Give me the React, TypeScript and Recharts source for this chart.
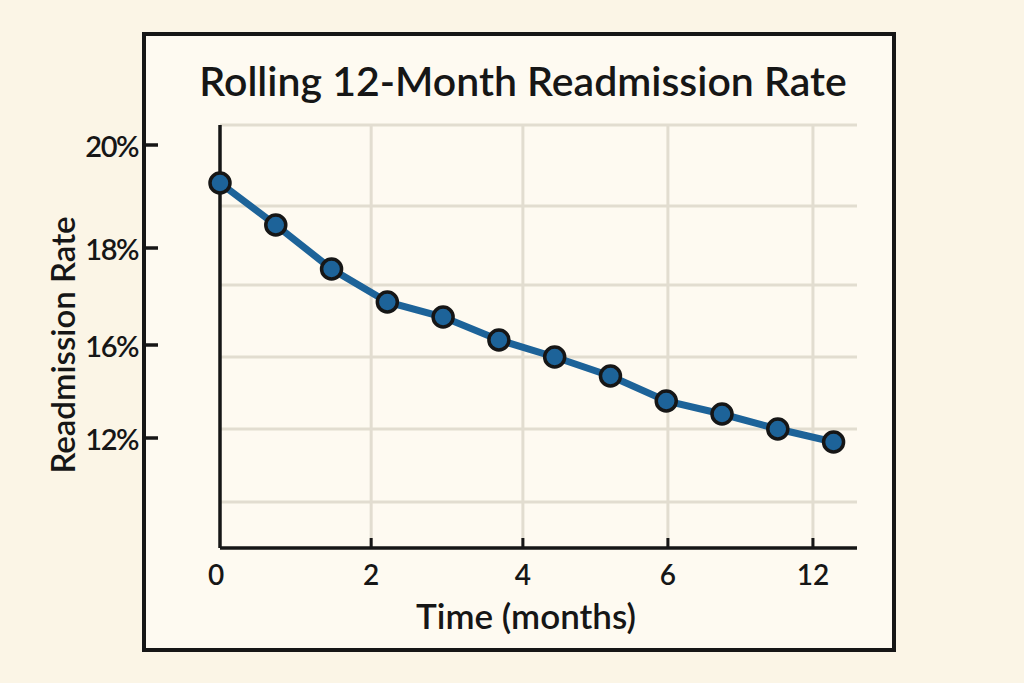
import React from "react";
import { CartesianGrid, Line, LineChart, XAxis, YAxis } from "recharts";

// x = month index, y = readmission rate (%)
const months = [0, 1, 2, 3, 4, 5, 6, 7, 8, 9, 10, 11];
const rates = [19.24, 18.4, 17.52, 16.86, 16.56, 16.1, 15.76, 15.38, 14.88, 14.62, 14.32, 14.06];

// tick positions on the axes and the labels printed at them
const xTicks = [0, 2.71, 5.43, 8.03, 10.63];
const xTickLabels = ["0", "2", "4", "6", "12"];
const yTicks = [20, 17.94, 16, 14.14];
const yTickLabels = ["20%", "18%", "16%", "12%"];

// grid lines
const xGrid = [2.71, 5.43, 8.03, 10.63];
const yGrid = [20.4, 18.78, 17.2, 15.76, 14.32, 12.86];

const data = months.map((m, i) => ({ month: m, rate: rates[i] }));

const INK = "#161616";
const FONT = "Lato, 'Open Sans', sans-serif";

const XTick = (props: any) => {
  const { x, y, index } = props;
  return (
    <g>
      {index > 0 && <line x1={x} x2={x} y1={y} y2={y - 10} stroke={INK} strokeWidth={3} />}
      <text
        x={index === 0 ? x - 4 : x}
        y={y + 26}
        textAnchor="middle"
        dominantBaseline="central"
        fill={INK}
        fontSize={28}
        fontFamily={FONT}
        fontWeight={600}
      >
        {xTickLabels[index]}
      </text>
    </g>
  );
};

const YTick = (props: any) => {
  const { x, y, index } = props;
  return (
    <g>
      <line x1={x - 75} x2={x - 62} y1={y} y2={y} stroke={INK} strokeWidth={3.5} />
      <text
        x={x - 82}
        y={y}
        textAnchor="end"
        dominantBaseline="central"
        fill={INK}
        fontSize={29}
        fontFamily={FONT}
        fontWeight={600}
        letterSpacing={-1.5}
      >
        {yTickLabels[index]}
      </text>
    </g>
  );
};

export default function App() {
  return (
    <div
      style={{
        position: "absolute",
        left: 0,
        top: 0,
        width: 1024,
        height: 683,
        background: "#FBF5E6",
        overflow: "hidden",
        fontFamily: FONT,
      }}
    >
      <div
        style={{
          position: "absolute",
          left: 142,
          top: 32,
          width: 754,
          height: 620,
          boxSizing: "border-box",
          border: `4.5px solid ${INK}`,
          background: "#FEFAF1",
        }}
      />
      <div
        style={{
          position: "absolute",
          left: 523,
          top: 80,
          transform: "translate(-50%, -50%)",
          whiteSpace: "nowrap",
          fontSize: 41,
          fontWeight: 600,
          color: INK,
        }}
      >
        Rolling 12-Month Readmission Rate
      </div>
      <div
        style={{
          position: "absolute",
          left: 62,
          top: 345,
          transform: "translate(-50%, -50%) rotate(-90deg)",
          whiteSpace: "nowrap",
          fontSize: 33,
          fontWeight: 600,
          color: INK,
        }}
      >
        Readmission Rate
      </div>
      <div
        style={{
          position: "absolute",
          left: 526,
          top: 615,
          transform: "translate(-50%, -50%)",
          whiteSpace: "nowrap",
          fontSize: 35,
          lineHeight: 1,
          fontWeight: 600,
          color: INK,
        }}
      >
        Time (months)
      </div>
      <div style={{ position: "absolute", left: 0, top: 0 }}>
        <LineChart
          width={1024}
          height={683}
          data={data}
          margin={{ left: 160, right: 167, top: 125, bottom: 105 }}
        >
          <CartesianGrid
            stroke="#E2DDD0"
            strokeWidth={3}
            verticalValues={xGrid}
            horizontalValues={yGrid}
          />
          <XAxis
            dataKey="month"
            type="number"
            domain={[0, 11.42]}
            ticks={xTicks}
            interval={0}
            height={30}
            tickSize={0}
            tickMargin={0}
            tickLine={false}
            axisLine={{ stroke: INK, strokeWidth: 3.5 }}
            tick={<XTick />}
          />
          <YAxis
            type="number"
            domain={[11.94, 20.4]}
            ticks={yTicks}
            interval={0}
            width={60}
            tickSize={0}
            tickMargin={0}
            tickLine={false}
            axisLine={{ stroke: INK, strokeWidth: 3.5 }}
            tick={<YTick />}
          />
          <Line
            dataKey="rate"
            type="linear"
            stroke="#1D6399"
            strokeWidth={7}
            dot={{ r: 10, fill: "#1D6399", stroke: INK, strokeWidth: 3.5 }}
            isAnimationActive={false}
          />
        </LineChart>
      </div>
    </div>
  );
}
